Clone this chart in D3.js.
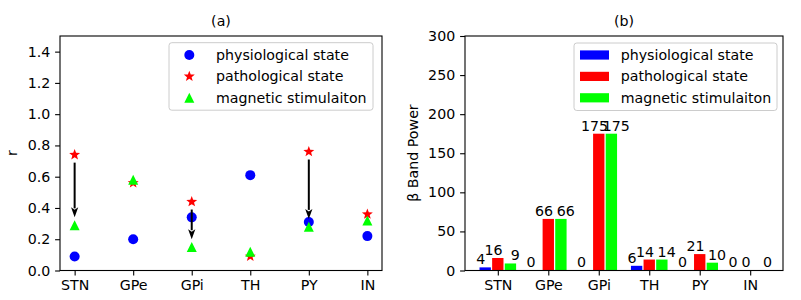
<!DOCTYPE html>
<html><head><meta charset="utf-8">
<script src="https://cdn.jsdelivr.net/npm/d3@7"></script>
<style>body{margin:0;background:#fff}svg{display:block}</style>
</head><body><svg id="c" width="801" height="300" font-family="DejaVu Sans" style="font-family:'DejaVu Sans'"></svg>
<script>
const categories = ["STN","GPe","GPi","TH","PY","IN"];
const seriesNames = ["physiological state","pathological state","magnetic stimulaiton"];
// panel (a): r values
const rPhysio = [0.09, 0.20, 0.34, 0.61, 0.31, 0.22];
const rPatho  = [0.74, 0.56, 0.44, 0.09, 0.76, 0.36];
const rMagnet = [0.29, 0.58, 0.15, 0.12, 0.28, 0.32];
const arrowCats = ["STN","GPi","PY"];
const arrowFrom = [0.69, 0.39, 0.71];
const arrowTo   = [0.34, 0.20, 0.33];
const rTicks = [0,0.2,0.4,0.6,0.8,1.0,1.2,1.4];
// panel (b): beta band power
const bPhysio = [4, 0.45, 0.45, 6, 0.45, 0.45];
const bPatho  = [16, 66, 175, 14, 21, 0.45];
const bMagnet = [9, 66, 175, 14, 10, 0.45];
const bTicks = [0,50,100,150,200,250,300];

const colors = ["#0000ff","#ff0000","#00ff00"];
const FS = 14.2;
const FF = "'DejaVu Sans'";
const svg = d3.select("#c");

const yTop = 36, yBot = 270.5;

function txt(sel){ return sel.style("font-family",FF).style("font-size",FS+"px").attr("fill","#000"); }
function spines(g, x0, x1){
  g.append("rect").attr("x",x0).attr("y",yTop).attr("width",x1-x0).attr("height",yBot-yTop)
   .attr("fill","none").attr("stroke","#000").attr("stroke-width",1.1);
}
function styleAxis(sel){
  sel.attr("font-family",null).attr("font-size",null);
  sel.select(".domain").remove();
  sel.selectAll(".tick line").attr("stroke","#000").attr("stroke-width",1.1);
  txt(sel.selectAll(".tick text"));
}

// ---------- Panel (a) ----------
const xa = d3.scaleLinear().domain([-0.25,5.25]).range([60,382]);
const ya = d3.scaleLinear().domain([0,1.5]).range([yBot,yTop]);
const ga = svg.append("g");

const ms = 10;
const circleT = {draw(ctx,s){const r=s/2; ctx.moveTo(r,0); ctx.arc(0,0,r,0,2*Math.PI);}};
const triT = {draw(ctx,s){const h=s/2; ctx.moveTo(0,-h); ctx.lineTo(-h,h); ctx.lineTo(h,h); ctx.closePath();}};
const starT = {draw(ctx,s){const R=s/2*1.15, r=R*0.42; for(let i=0;i<10;i++){const a=-Math.PI/2+i*Math.PI/5; const rr=i%2?r:R; const px=rr*Math.cos(a), py=rr*Math.sin(a); if(i===0)ctx.moveTo(px,py); else ctx.lineTo(px,py);} ctx.closePath();}};
const symTypes = [circleT, starT, triT];
const rSeries = [rPhysio, rPatho, rMagnet];

rSeries.forEach((vals,si)=>{
  ga.append("g").selectAll("path").data(vals).join("path")
    .attr("transform",(d,i)=>`translate(${xa(i)},${ya(d)})`)
    .attr("d", d3.symbol().type(symTypes[si]).size(ms))
    .attr("fill",colors[si]);
});

// arrows
arrowCats.forEach((c,k)=>{
  const i = categories.indexOf(c);
  const x = xa(i), y1 = ya(arrowFrom[k]), y2 = ya(arrowTo[k]);
  const hl = 10, hw = 3.6;
  ga.append("line").attr("x1",x).attr("x2",x).attr("y1",y1).attr("y2",y2-hl+1)
    .attr("stroke","#000").attr("stroke-width",2);
  ga.append("path").attr("d",`M${x},${y2} L${x-hw},${y2-hl} L${x},${y2-hl+2.5} L${x+hw},${y2-hl} Z`).attr("fill","#000");
});

const axA = ga.append("g").attr("transform",`translate(60,0)`)
  .call(d3.axisLeft(ya).tickValues(rTicks).tickFormat(d3.format(".1f")).tickSize(4.9).tickPadding(4.9));
styleAxis(axA);
const axAx = ga.append("g").attr("transform",`translate(0,${yBot})`)
  .call(d3.axisBottom(xa).tickValues(d3.range(categories.length)).tickFormat(i=>categories[i]).tickSize(4.9).tickPadding(4.9));
styleAxis(axAx);
spines(ga,60,382);
txt(ga.append("text").attr("x",221).attr("y",26).attr("text-anchor","middle")).text("(a)");
txt(ga.append("text").attr("transform",`translate(16.5,153) rotate(-90)`).attr("text-anchor","middle")).text("r");

// legend (a)
const la = ga.append("g");
la.append("rect").attr("x",169).attr("y",42.7).attr("width",204).attr("height",67.5).attr("rx",2.8)
  .attr("fill","#fff").attr("fill-opacity",0.8).attr("stroke","#cccccc").attr("stroke-width",1);
seriesNames.forEach((n,si)=>{
  const yy = 55 + si*21.4;
  la.append("path").attr("transform",`translate(189.3,${yy})`).attr("d",d3.symbol().type(symTypes[si]).size(ms)).attr("fill",colors[si]);
  txt(la.append("text").attr("x",216).attr("y",yy+5)).text(n);
});

// ---------- Panel (b) ----------
const xb = d3.scaleLinear().domain([-0.65,5.65]).range([465,783]);
const yb = d3.scaleLinear().domain([0,300]).range([yBot,yTop]);
const gb = svg.append("g");
const bSeries = [bPhysio, bPatho, bMagnet];
const offs = [-0.25,0,0.25], bw = 0.225;
const labelOffs = [-0.34,-0.085,0.345];
bSeries.forEach((vals,si)=>{
  gb.append("g").selectAll("rect").data(vals).join("rect")
    .attr("x",(d,i)=>xb(i+offs[si]-bw/2)).attr("width",xb(bw)-xb(0))
    .attr("y",d=>yb(d)).attr("height",d=>yb(0)-yb(d)).attr("fill",colors[si]);
});
bSeries.forEach((vals,si)=>{
  txt(gb.append("g").selectAll("text").data(vals).join("text")
    .attr("x",(d,i)=>xb(i+labelOffs[si])).attr("y",d=>yb(d)-3)
    .attr("text-anchor","middle"))
    .text(d=>Math.round(d));
});
const axB = gb.append("g").attr("transform",`translate(465,0)`)
  .call(d3.axisLeft(yb).tickValues(bTicks).tickFormat(d3.format("d")).tickSize(4.9).tickPadding(4.9));
styleAxis(axB);
const axBx = gb.append("g").attr("transform",`translate(0,${yBot})`)
  .call(d3.axisBottom(xb).tickValues(d3.range(categories.length)).tickFormat(i=>categories[i]).tickSize(4.9).tickPadding(4.9));
styleAxis(axBx);
spines(gb,465,783);
txt(gb.append("text").attr("x",624).attr("y",26).attr("text-anchor","middle")).text("(b)");
txt(gb.append("text").attr("transform",`translate(418,153) rotate(-90)`).attr("text-anchor","middle")).text("β Band Power");

const lb = gb.append("g");
lb.append("rect").attr("x",574).attr("y",43).attr("width",203).attr("height",67.5).attr("rx",2.8)
  .attr("fill","#fff").attr("fill-opacity",0.8).attr("stroke","#cccccc").attr("stroke-width",1);
seriesNames.forEach((n,si)=>{
  const yy = 55 + si*21.4;
  lb.append("rect").attr("x",580).attr("y",yy-4.6).attr("width",29).attr("height",9.2).attr("fill",colors[si]);
  txt(lb.append("text").attr("x",620.7).attr("y",yy+5)).text(n);
});
</script></body></html>
